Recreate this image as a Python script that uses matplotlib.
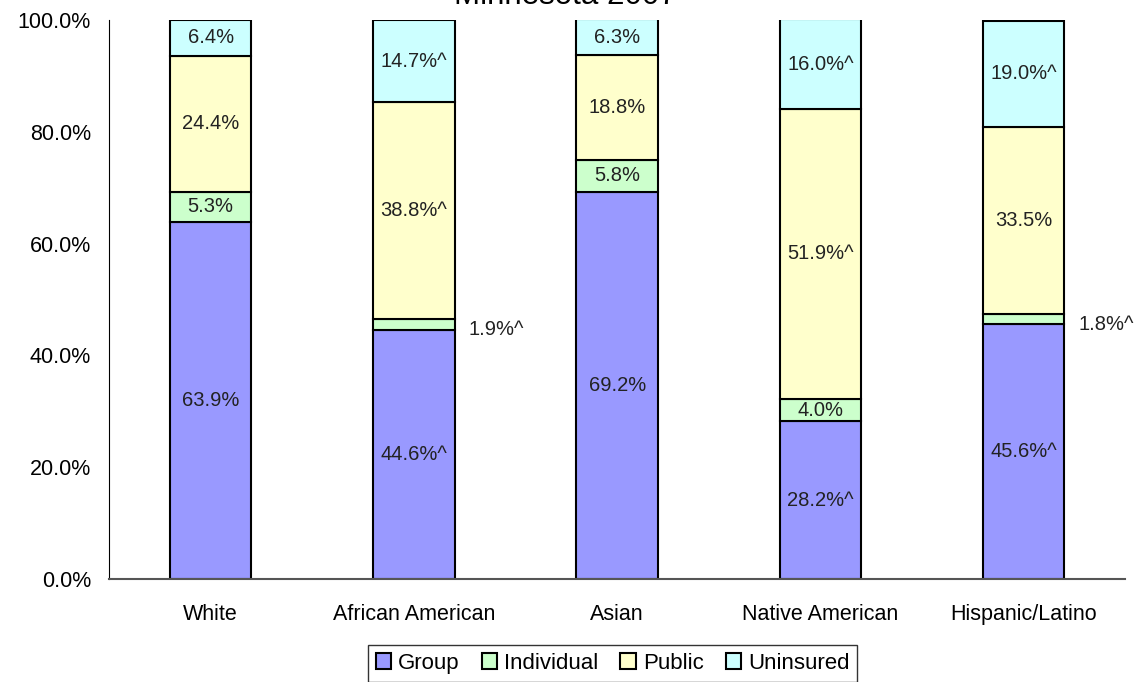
import matplotlib
matplotlib.use("Agg")
import matplotlib.pyplot as plt
import numpy as np

categories = ["White", "African American", "Asian", "Native American", "Hispanic/Latino"]
series_names = ["Group", "Individual", "Public", "Uninsured"]
group = [63.9, 44.6, 69.2, 28.2, 45.6]
individual = [5.3, 1.9, 5.8, 4.0, 1.8]
public = [24.4, 38.8, 18.8, 51.9, 33.5]
uninsured = [6.4, 14.7, 6.3, 16.0, 19.0]
flag_group = [False, True, False, True, True]
flag_individual = [False, True, False, False, True]
flag_public = [False, True, False, True, False]
flag_uninsured = [False, True, False, True, True]
colors = ["#9999FF", "#CCFFCC", "#FFFFCC", "#CCFFFF"]

plt.rcParams['font.family'] = ['Liberation Sans', 'DejaVu Sans']

fig = plt.figure(figsize=(11.38, 6.82), dpi=100)
ax = fig.add_axes([0.0958, 0.151, 0.893, 0.8197])

x = np.arange(len(categories))
data = [group, individual, public, uninsured]
flags = [flag_group, flag_individual, flag_public, flag_uninsured]
bottom = np.zeros(len(categories))
width = 0.4
handles = []
for vals, flg, col, name in zip(data, flags, colors, series_names):
    vals = np.array(vals)
    b = ax.bar(x, vals, width, bottom=bottom, color=col, edgecolor="black", linewidth=1.5, label=name)
    handles.append(b)
    for i, v in enumerate(vals):
        txt = f"{v:.1f}%" + ("^" if flg[i] else "")
        cy = bottom[i] + v / 2
        if v < 3:
            ax.text(x[i] + width / 2 + 0.07, cy - 1.0, txt, ha="left", va="center", fontsize=14.5, color="#222222")
        else:
            ax.text(x[i], cy, txt, ha="center", va="center", fontsize=14.5, color="#222222")
    bottom = bottom + vals

ax.set_xlim(-0.5, 4.5)
ax.set_ylim(0, 100)
ax.set_yticks(np.arange(0, 101, 20))
ax.set_yticklabels([f"{t:.1f}%" for t in np.arange(0, 101, 20)], fontsize=15.5)
ax.set_xticks(x)
ax.set_xticklabels(categories, fontsize=15.5)
ax.tick_params(axis="y", length=0, pad=13)
ax.tick_params(axis="x", length=0, pad=18)
for s in ["top", "right"]:
    ax.spines[s].set_visible(False)
ax.spines["left"].set_color("black")
ax.spines["bottom"].set_color("#555555")
ax.spines["bottom"].set_linewidth(1.5)

fig.text(0.497, 1 - 4.5 / 682, "Minnesota 2007", ha="center", va="baseline", fontsize=22.5)

leg = fig.legend(handles=handles, labels=series_names, loc="upper center",
                 bbox_to_anchor=(0.5383, 1 - 645 / 682), ncol=4, frameon=True, fancybox=False,
                 edgecolor="black", fontsize=16, handlelength=0.7, handleheight=0.7,
                 handletextpad=0.3, columnspacing=1.0, borderpad=0.35, borderaxespad=0)
leg.get_frame().set_linewidth(1.0)

fig.savefig("out.png", dpi=100)
